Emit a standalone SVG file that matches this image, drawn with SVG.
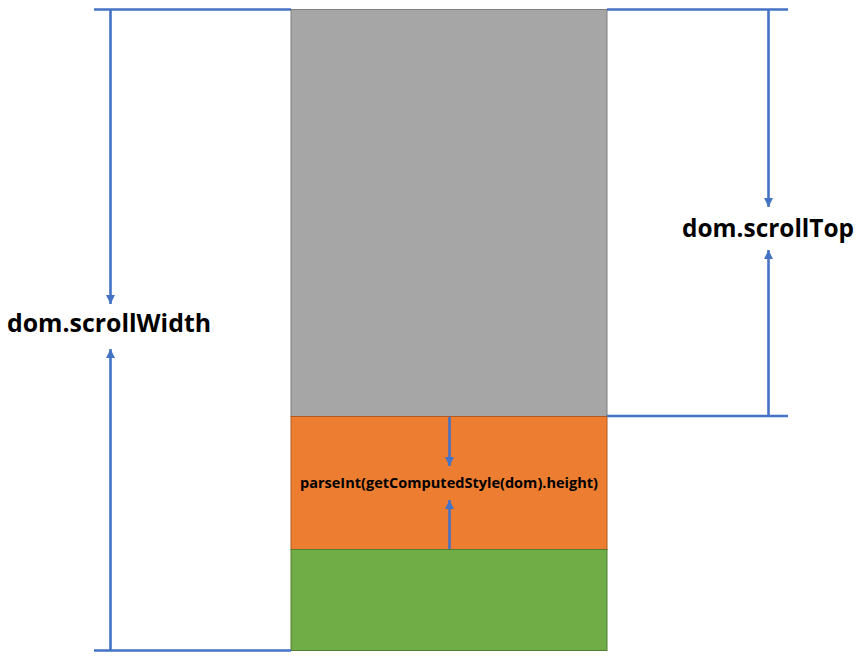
<svg xmlns="http://www.w3.org/2000/svg" width="861" height="656" viewBox="0 0 861 656">
  <style>
    .ln { stroke: #4472C4; stroke-width: 2.6; fill: none; }
    .ar { stroke: #4472C4; stroke-width: 2.6; fill: none; }
    .lbl { font-family: "Open Sans", "Noto Sans", "DejaVu Sans", sans-serif; font-weight: bold; fill: #000; text-anchor: middle; }
  </style>
  <defs>
    <marker id="ah" viewBox="0 0 10 10" refX="10" refY="5" markerWidth="3.6" markerHeight="3.6" markerUnits="strokeWidth" orient="auto">
      <path d="M0,0 L10,5 L0,10 z" fill="#4472C4"/>
    </marker>
  </defs>
  <rect width="861" height="656" fill="#fff"/>
  <g id="grey">
    <rect x="291" y="9.5" width="316" height="407" fill="#A6A6A6" stroke="#7F7F7F" stroke-width="1"/>
  </g>
  <g id="orange">
    <rect x="291" y="416.5" width="316" height="133" fill="#ED7D31" stroke="#AE5A21" stroke-width="1"/>
  </g>
  <g id="green">
    <rect x="291" y="549.5" width="316" height="101" fill="#70AD47" stroke="#507E32" stroke-width="1"/>
  </g>
  <g id="connectors">
    <line class="ln" x1="94" y1="9.5" x2="291" y2="9.5"/>
    <line class="ln" x1="94" y1="650.5" x2="291" y2="650.5"/>
    <line class="ln" x1="607" y1="9.5" x2="788" y2="9.5"/>
    <line class="ln" x1="607" y1="416" x2="788" y2="416"/>
    <line class="ar" x1="110.5" y1="10" x2="110.5" y2="304" marker-end="url(#ah)"/>
    <line class="ar" x1="110.5" y1="650" x2="110.5" y2="349" marker-end="url(#ah)"/>
    <line class="ar" x1="768.5" y1="10" x2="768.5" y2="207" marker-end="url(#ah)"/>
    <line class="ar" x1="768.5" y1="416" x2="768.5" y2="250" marker-end="url(#ah)"/>
    <line class="ar" x1="449.5" y1="417" x2="449.5" y2="466" marker-end="url(#ah)"/>
    <line class="ar" x1="449.5" y1="549" x2="449.5" y2="500" marker-end="url(#ah)"/>
  </g>
  <g id="label-scrollWidth">
    <text class="lbl" x="109" y="332" font-size="25" textLength="204" lengthAdjust="spacingAndGlyphs">dom.scrollWidth</text>
  </g>
  <g id="label-scrollTop">
    <text class="lbl" x="768" y="237" font-size="25" textLength="172" lengthAdjust="spacingAndGlyphs">dom.scrollTop</text>
  </g>
  <g id="label-height">
    <text class="lbl" x="449" y="488" font-size="14" textLength="298" lengthAdjust="spacingAndGlyphs">parseInt(getComputedStyle(dom).height)</text>
  </g>
</svg>
